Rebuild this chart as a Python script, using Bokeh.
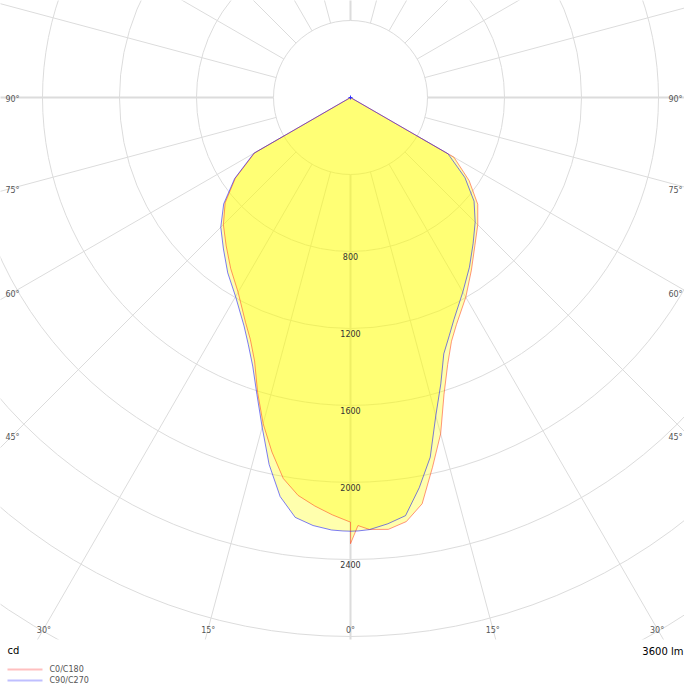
import numpy as np
from bokeh.plotting import figure
from bokeh.models import Range1d
from bokeh.core.properties import value
from bokeh.embed import file_html
from bokeh.resources import INLINE

# gamma angles (0 = straight down) and luminous intensity in cd
gamma = [0, 1, 2.5, 5, 7.5, 10, 12.5, 15, 17.5, 20, 22.5, 25, 30, 35, 40, 45, 50, 55, 60, 65, 70, 75, 80, 85, 90]
c0 = [2318, 2224, 2246, 2252, 2222, 2143, 1968, 1809, 1616, 1476, 1371, 1302, 1198, 1095, 1005, 935, 863, 752, 620, 0, 0, 0, 0, 0, 0]
c180 = [2206, 2191, 2170, 2130, 2085, 2010, 1886, 1754, 1605, 1457, 1360, 1290, 1168, 1085, 1005, 934, 850, 730, 575, 0, 0, 0, 0, 0, 0]
c90 = [2253, 2252, 2247, 2223, 2191, 2058, 1914, 1712, 1560, 1417, 1340, 1272, 1167, 1077, 991, 916, 838, 726, 585, 0, 0, 0, 0, 0, 0]
c270 = [2253, 2252, 2249, 2232, 2200, 2105, 1953, 1773, 1617, 1485, 1388, 1309, 1194, 1112, 1027, 953, 860, 735, 580, 0, 0, 0, 0, 0, 0]

ring_values = [400, 800, 1200, 1600, 2000, 2400, 2800, 3200, 3600, 4000]
ring_labels = [800, 1200, 1600, 2000, 2400]
angle_labels = [0, 15, 30, 45, 60, 75, 90]
series_names = ["C0/C180", "C90/C270"]
flux_text = "3600 lm"
unit_text = "cd"

FONT = value("DejaVu Sans")
W, H = 684, 684
SCALE = 0.1925          # px per cd
CX, CY = 350, 97        # centre of diagram in canvas px
BOTTOM = 639            # bottom of the diagram area in canvas px


def to_data(xp, yp):
    # canvas px (from top-left) -> data units
    return (xp - CX) / SCALE, (CY - yp) / SCALE


x0, y0 = to_data(0, 0)
x1, y1 = to_data(W, H)
p = figure(width=W, height=H, x_range=Range1d(x0, x1), y_range=Range1d(y1, y0),
           x_axis_type=None, y_axis_type=None, toolbar_location=None,
           output_backend="svg", min_border=0, outline_line_color=None, title=None)
p.background_fill_color = "white"
p.border_fill_color = "white"

# rings
p.circle(x=[0] * len(ring_values), y=[0] * len(ring_values), radius=ring_values,
         fill_color=None, line_color="#dcdcdc", line_width=1)

# spokes every 15 degrees, starting at the first ring
xs, ys, widths = [], [], []
for a in range(0, 360, 15):
    t = np.radians(a)
    xs.append([400 * np.sin(t), 6000 * np.sin(t)])
    ys.append([-400 * np.cos(t), -6000 * np.cos(t)])
    widths.append(2 if a % 90 == 0 else 1)
p.multi_line(xs=xs, ys=ys, line_color="#dcdcdc", line_width=widths)


def outline(left, right):
    g = np.radians(gamma)
    l = np.array(left, dtype=float)
    r = np.array(right, dtype=float)
    xl = -l * np.sin(g)
    yl = -l * np.cos(g)
    xr = r * np.sin(g)
    yr = -r * np.cos(g)
    return list(xl[::-1]) + list(xr), list(yl[::-1]) + list(yr)


red_x, red_y = outline(c180, c0)
blue_x, blue_y = outline(c270, c90)
p.patch(red_x, red_y, fill_color="#ffff00", fill_alpha=0.32, line_color=None)
p.patch(blue_x, blue_y, fill_color="#ffff00", fill_alpha=0.32, line_color=None)
p.line(red_x, red_y, line_color="#ff4020", line_alpha=0.55, line_width=1)
p.line(blue_x, blue_y, line_color="#1010ff", line_alpha=0.55, line_width=1)
p.scatter([0], [0], marker="cross", size=4, line_color="#3030ff")

# ring labels
p.text(x=[0] * len(ring_labels), y=[-v for v in ring_labels], text=[str(v) for v in ring_labels],
       text_font=FONT, text_font_size="8px", text_color="#333333",
       text_align="center", text_baseline="top", y_offset=1)

# white band under the diagram
bx0, by0 = to_data(0, BOTTOM)
p.quad(left=x0, right=x1, top=by0, bottom=y1, fill_color="white", line_color=None)

# angle labels where the spokes meet the frame
half_w, down = 338, 531
lx, ly, lt = [], [], []
for a in angle_labels:
    t = np.radians(a)
    sides = []
    if np.sin(t) > 1e-9:
        sides.append(half_w / np.sin(t))
    if np.cos(t) > 1e-9:
        sides.append(down / np.cos(t))
    d = min(sides)
    for sgn in ([1] if a == 0 else [-1, 1]):
        xp = min(CX + sgn * d * np.sin(t), W - 9)
        yp = CY + d * np.cos(t)
        dx, dy = to_data(xp, yp)
        lx.append(dx)
        ly.append(dy)
        lt.append(f"{a}°")
p.text(x=lx, y=ly, text=lt, text_font=FONT, text_font_size="8px", text_color="#555555",
       text_align="center", text_baseline="middle", y_offset=2)

# unit and flux
ux, uy = to_data(7, 650)
p.text(x=[ux], y=[uy], text=[unit_text], text_font=FONT, text_font_size="10px",
       text_color="#000000", text_align="left", text_baseline="middle")
fx, fy = to_data(683, 651)
p.text(x=[fx], y=[fy], text=[flux_text], text_font=FONT, text_font_size="10px",
       text_color="#000000", text_align="right", text_baseline="middle")

# legend
for i, (name, col) in enumerate(zip(series_names, ["#ff0000", "#0000ff"])):
    ax, ay = to_data(7, 669 + 11 * i)
    bx, _ = to_data(42, 0)
    tx, _ = to_data(49, 0)
    p.line([ax, bx], [ay, ay], line_color=col, line_alpha=0.25, line_width=2)
    p.text(x=[tx], y=[ay], text=[name], text_font=FONT, text_font_size="8px",
           text_color="#555555", text_align="left", text_baseline="middle")

open("out.html", "w").write(file_html(p, INLINE))
